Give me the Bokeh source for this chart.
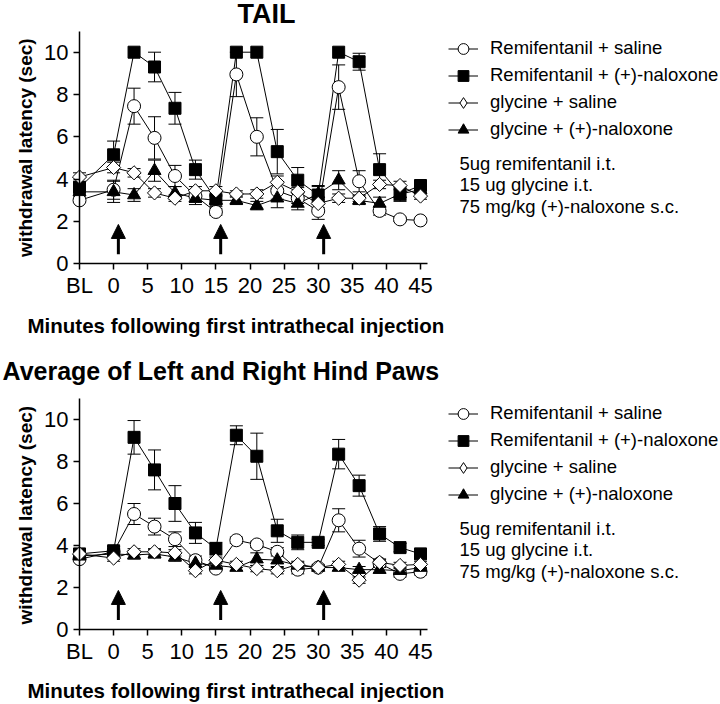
import numpy as np
from bokeh.plotting import figure
from bokeh.models import (Range1d, FixedTicker, ColumnDataSource, Whisker, TeeHead, LinearAxis,
                          Arrow, NormalHead, Label, Legend, LegendItem)
from bokeh.layouts import column
from bokeh.embed import file_html
from bokeh.resources import INLINE

FONT = "Liberation Sans"

# ---------------- data ----------------
minutes = [-5, 0, 3, 6, 9, 12, 15, 18, 21, 24, 27, 30, 33, 36, 39, 42, 45]  # -5 = baseline (BL)
tick_values = [-5, 0, 5, 10, 15, 20, 25, 30, 35, 40, 45]
tick_labels = ["BL", "0", "5", "10", "15", "20", "25", "30", "35", "40", "45"]
y_ticks = [0, 2, 4, 6, 8, 10]
injection_times = [0.7, 15.7, 30.8]

series_names = ["Remifentanil + saline", "Remifentanil + (+)-naloxone",
                "glycine + saline", "glycine + (+)-naloxone"]
notes = ["5ug remifentanil i.t.", "15 ug glycine i.t.", "75 mg/kg  (+)-naloxone s.c."]
x_title = "Minutes following first intrathecal injection"
y_title = "withdrawal latency  (sec)"

# TAIL
tail_remi_sal = [3.0, 3.5, 7.45, 5.95, 4.15, 3.2, 2.45, 8.95, 6.0, 3.45, 3.1, 2.5, 8.35, 3.9, 2.5, 2.1, 2.05]
tail_remi_sal_err = [0.1, 0.45, 0.85, 1.0, 0.5, 0.3, 0.15, 1.05, 0.9, 0.4, 0.25, 0.4, 1.05, 0.5, 0.2, 0.1, 0.1]
tail_remi_nal = [3.6, 5.15, 10.0, 9.3, 7.35, 4.45, 3.05, 10.0, 10.0, 5.3, 3.95, 3.25, 10.0, 9.55, 4.45, 3.3, 3.7]
tail_remi_nal_err = [0.2, 0.65, 0.0, 0.7, 0.75, 0.45, 0.35, 0.0, 0.0, 1.05, 0.6, 0.45, 0.0, 0.4, 0.75, 0.35, 0.2]
tail_gly_sal = [4.1, 4.55, 4.3, 3.35, 3.1, 3.45, 3.45, 3.3, 3.3, 3.85, 3.4, 2.85, 3.1, 3.1, 3.75, 3.7, 3.2]
tail_gly_sal_err = [0.2, 0.25, 0.2, 0.2, 0.15, 0.2, 0.2, 0.15, 0.2, 0.3, 0.2, 0.2, 0.2, 0.15, 0.2, 0.2, 0.15]
tail_gly_nal = [3.4, 3.4, 3.25, 4.4, 3.35, 3.1, 3.0, 3.0, 2.75, 3.1, 2.85, 3.3, 3.95, 3.0, 2.85, 3.3, 3.5]
tail_gly_nal_err = [0.2, 0.5, 0.3, 0.5, 0.3, 0.3, 0.2, 0.2, 0.2, 0.45, 0.3, 0.35, 0.45, 0.2, 0.3, 0.3, 0.2]

# Average of left and right hind paws
paw_remi_sal = [3.35, 3.7, 5.5, 4.9, 4.3, 3.3, 2.9, 4.25, 4.05, 3.7, 2.85, 2.95, 5.2, 3.85, 3.15, 2.65, 2.75]
paw_remi_sal_err = [0.1, 0.15, 0.5, 0.4, 0.35, 0.2, 0.1, 0.15, 0.15, 0.2, 0.2, 0.1, 0.55, 0.4, 0.2, 0.15, 0.15]
paw_remi_nal = [3.6, 3.75, 9.15, 7.6, 6.0, 4.6, 3.85, 9.25, 8.25, 4.7, 4.15, 4.15, 8.35, 6.85, 4.55, 3.9, 3.6]
paw_remi_nal_err = [0.15, 0.2, 0.8, 0.95, 0.85, 0.5, 0.3, 0.45, 1.1, 0.55, 0.35, 0.15, 0.7, 0.5, 0.35, 0.2, 0.15]
paw_gly_sal = [3.6, 3.4, 3.7, 3.7, 3.65, 2.8, 3.3, 3.1, 2.9, 2.8, 3.1, 2.95, 3.1, 2.35, 3.2, 3.05, 3.1]
paw_gly_sal_err = [0.15, 0.15, 0.15, 0.15, 0.15, 0.15, 0.15, 0.15, 0.15, 0.15, 0.15, 0.15, 0.15, 0.15, 0.15, 0.15, 0.15]
paw_gly_nal = [3.5, 3.6, 3.55, 3.6, 3.45, 3.15, 3.05, 2.95, 3.35, 3.3, 3.05, 2.95, 2.95, 2.85, 2.85, 2.8, 2.95]
paw_gly_nal_err = [0.15, 0.15, 0.2, 0.2, 0.2, 0.15, 0.15, 0.15, 0.3, 0.3, 0.15, 0.1, 0.15, 0.15, 0.15, 0.15, 0.1]

# ---------------- styles ----------------
STY = {
    "Remifentanil + saline": dict(marker="circle", fill="white", size=13, angle=0.0, legend_marker="circle"),
    "Remifentanil + (+)-naloxone": dict(marker="square", fill="black", size=12, angle=0.0, legend_marker="square"),
    "glycine + saline": dict(marker="square", fill="white", size=10, angle=np.pi / 4, legend_marker="diamond"),
    "glycine + (+)-naloxone": dict(marker="triangle", fill="black", size=13, angle=0.0, legend_marker="triangle"),
}
DRAW_ORDER = ["Remifentanil + saline", "Remifentanil + (+)-naloxone",
              "glycine + (+)-naloxone", "glycine + saline"]

W = 720
AX_LEFT_PX = 79.0      # pixel of the y axis (x = BL)
PX_PER_MIN = 6.82


def make_chart(fig_top, H, zero_px, px_per_unit, title, title_xy, title_size, title_align,
               ylabel_cy, legend_row1, notes_y, xlabel_y, data):
    """All positions given in absolute page pixels (from page top-left)."""
    x0 = -5 - AX_LEFT_PX / PX_PER_MIN
    x1 = x0 + W / PX_PER_MIN
    zero_in = zero_px - fig_top
    y1 = zero_in / px_per_unit
    y0 = -(H - zero_in) / px_per_unit

    def sy(a):
        return H - (a - fig_top)

    p = figure(width=W, height=H, output_backend="svg", toolbar_location=None,
               x_range=Range1d(x0, x1), y_range=Range1d(y0, y1),
               x_axis_location=None, y_axis_location=None, min_border=0)
    p.outline_line_color = None
    p.grid.visible = False
    p.background_fill_color = "white"
    p.border_fill_color = "white"

    xa = LinearAxis(fixed_location=0, bounds=(-5, 46), ticker=FixedTicker(ticks=tick_values),
                    major_label_overrides={v: l for v, l in zip(tick_values, tick_labels)},
                    major_label_standoff=3)
    ya = LinearAxis(fixed_location=-5, bounds=(0, 11), ticker=FixedTicker(ticks=y_ticks),
                    major_label_standoff=5)
    for ax in (xa, ya):
        ax.axis_line_width = 1.5
        ax.axis_line_color = "black"
        ax.major_tick_line_width = 1.5
        ax.major_tick_line_color = "black"
        ax.major_tick_in = 0
        ax.major_tick_out = 6
        ax.minor_tick_line_color = None
        ax.major_label_text_font = FONT
        ax.major_label_text_font_size = "22px"
        ax.major_label_text_color = "black"
    p.add_layout(xa, "below")
    p.add_layout(ya, "left")

    line_r, mark_r = {}, {}
    for name in series_names:
        vals, _ = data[name]
        line_r[name] = p.line(minutes, vals, line_color="black", line_width=1)

    for name in series_names:
        vals, errs = data[name]
        v = np.array(vals)
        e = np.array(errs)
        m = e > 0
        src = ColumnDataSource(dict(x=np.array(minutes)[m], upper=(v + e)[m], lower=(v - e)[m]))
        p.add_layout(Whisker(source=src, base="x", upper="upper", lower="lower", dimension="height",
                             line_color="black", line_width=1, level="underlay",
                             upper_head=TeeHead(size=13, line_width=1, line_color="black"),
                             lower_head=TeeHead(size=13, line_width=1, line_color="black")))

    for name in DRAW_ORDER:
        vals, _ = data[name]
        s = STY[name]
        mark_r[name] = p.scatter(minutes, vals, marker=s["marker"], size=s["size"], angle=s["angle"],
                                 fill_color=s["fill"], line_color="black", line_width=1)

    for t in injection_times:
        p.add_layout(Arrow(end=NormalHead(size=14, fill_color="black", line_color="black", line_width=1),
                           x_start=t, y_start=0.45, x_end=t, y_end=1.86,
                           line_width=3, line_color="black"))

    # legend (key markers drawn by Legend; the diamond key uses a legend-only marker
    # whose single point is NaN, so it never shows in the plot area)
    items = []
    for n in series_names:
        s = STY[n]
        key = mark_r[n]
        if s["legend_marker"] != s["marker"]:
            key = p.scatter(x=[np.nan], y=[np.nan], marker=s["legend_marker"], fill_color=s["fill"],
                            line_color="black", line_width=1)
        items.append(LegendItem(label=n, renderers=[line_r[n], key]))
    gh = 27
    leg_h = gh * 4
    legend = Legend(items=items,
                    location=(448, sy(legend_row1 - gh / 2 + leg_h)),
                    glyph_width=30, glyph_height=gh, label_height=gh,
                    label_standoff=12, spacing=0, padding=0, margin=0,
                    border_line_color=None, background_fill_alpha=0,
                    label_text_font=FONT, label_text_font_size="18.5px",
                    label_text_color="black", label_text_baseline="middle")
    p.add_layout(legend)

    for txt, ny in zip(notes, notes_y):
        p.add_layout(Label(x=459, y=sy(ny), x_units="screen", y_units="screen",
                           text=txt, text_font=FONT, text_font_size="18.5px", text_color="black",
                           text_baseline="middle", text_align="left"))

    p.add_layout(Label(x=title_xy[0], y=sy(title_xy[1]), x_units="screen", y_units="screen",
                       text=title, text_font=FONT, text_font_size=title_size,
                       text_font_style="bold", text_color="black",
                       text_baseline="middle", text_align=title_align))
    p.add_layout(Label(x=27, y=sy(xlabel_y), x_units="screen", y_units="screen",
                       text=x_title, text_font=FONT, text_font_size="20.5px", text_font_style="bold",
                       text_color="black", text_baseline="middle", text_align="left"))
    p.add_layout(Label(x=25, y=sy(ylabel_cy), x_units="screen", y_units="screen", angle=np.pi / 2,
                       text=y_title, text_font=FONT, text_font_size="19px", text_font_style="bold",
                       text_color="black", text_baseline="middle", text_align="center"))
    return p


tail_data = {
    series_names[0]: (tail_remi_sal, tail_remi_sal_err),
    series_names[1]: (tail_remi_nal, tail_remi_nal_err),
    series_names[2]: (tail_gly_sal, tail_gly_sal_err),
    series_names[3]: (tail_gly_nal, tail_gly_nal_err),
}
paw_data = {
    series_names[0]: (paw_remi_sal, paw_remi_sal_err),
    series_names[1]: (paw_remi_nal, paw_remi_nal_err),
    series_names[2]: (paw_gly_sal, paw_gly_sal_err),
    series_names[3]: (paw_gly_nal, paw_gly_nal_err),
}

p1 = make_chart(0, 350, 263.3, 21.16, "TAIL", (266, 13), "27px", "center",
                144.5, 48, (163, 184, 206), 325, tail_data)
p2 = make_chart(350, 354, 629.0, 21.0, "Average of Left and Right Hind Paws", (2, 370), "25px", "left",
                512, 413, (528, 549, 571), 690, paw_data)

layout = column(p1, p2, spacing=0)
open("out.html", "w").write(file_html(layout, INLINE))
